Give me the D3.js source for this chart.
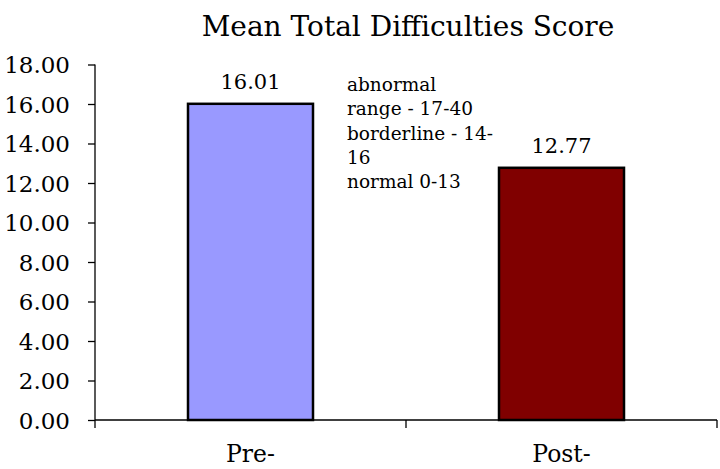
<!DOCTYPE html>
<html>
<head>
<meta charset="utf-8">
<script src="https://cdn.jsdelivr.net/npm/d3@7"></script>
<style>
  body { margin: 0; background: #fff; }
  svg text { font-family: Georgia, "DejaVu Serif", serif; fill: #000; }
</style>
</head>
<body>
<div id="chart"></div>
<script>
var categories = ["Pre-", "Post-"];
var values = [16.01, 12.77];
var valueLabels = ["16.01", "12.77"];
var barColors = ["#9999ff", "#800000"];
var yTicks = [0, 2, 4, 6, 8, 10, 12, 14, 16, 18];
var noteLines = ["abnormal", "range - 17-40", "borderline - 14-", "16", "normal 0-13"];

var width = 720,
    height = 469;

var svg = d3.select("#chart")
    .append("svg")
    .attr("width", width)
    .attr("height", height);

var x = d3.scaleBand().domain(categories).range([95, 717]).paddingInner(0).paddingOuter(0);
var y = d3.scaleLinear().domain([0, 18]).range([420, 64.5]);

// title
svg.append("text")
    .attr("x", 408)
    .attr("y", 36)
    .style("text-anchor", "middle")
    .style("font-size", "28px")
    .text("Mean Total Difficulties Score");

// y axis
var yAxis = d3.axisLeft(y)
    .tickValues(yTicks)
    .tickFormat(d3.format(".2f"))
    .tickSize(7)
    .tickPadding(18);

var yg = svg.append("g")
    .attr("transform", "translate(95,0)")
    .call(yAxis);
yg.select(".domain").remove();
yg.append("line")
    .attr("x1", 0).attr("x2", 0)
    .attr("y1", y(18)).attr("y2", 428)
    .attr("stroke", "#000").attr("stroke-width", 1.3);
yg.selectAll(".tick line").attr("stroke", "#000").attr("stroke-width", 1.3);
yg.selectAll(".tick text")
    .style("font-size", "23px")
    .attr("dy", "0.35em");

// x axis
svg.append("line")
    .attr("x1", 95).attr("x2", 717)
    .attr("y1", y(0)).attr("y2", y(0))
    .attr("stroke", "#000").attr("stroke-width", 1.3);

svg.selectAll(".xtick")
    .data(categories)
    .enter().append("line")
    .attr("class", "xtick")
    .attr("x1", function (d) { return x(d) + x.bandwidth(); })
    .attr("x2", function (d) { return x(d) + x.bandwidth(); })
    .attr("y1", y(0))
    .attr("y2", y(0) + 8)
    .attr("stroke", "#000").attr("stroke-width", 1.3);

svg.selectAll(".xlabel")
    .data(categories)
    .enter().append("text")
    .attr("class", "xlabel")
    .attr("x", function (d) { return x(d) + x.bandwidth() / 2; })
    .attr("y", 462)
    .style("text-anchor", "middle")
    .style("font-size", "23.5px")
    .text(function (d) { return d; });

// bars
var barW = 125;
svg.selectAll(".bar")
    .data(values)
    .enter().append("rect")
    .attr("class", "bar")
    .attr("x", function (d, i) { return x(categories[i]) + x.bandwidth() / 2 - barW / 2; })
    .attr("y", function (d) { return y(d); })
    .attr("width", barW)
    .attr("height", function (d) { return y(0) - y(d); })
    .style("fill", function (d, i) { return barColors[i]; })
    .style("stroke", "#000")
    .style("stroke-width", 2.5);

svg.selectAll(".vlabel")
    .data(values)
    .enter().append("text")
    .attr("class", "vlabel")
    .attr("x", function (d, i) { return x(categories[i]) + x.bandwidth() / 2; })
    .attr("y", function (d) { return y(d) - 15; })
    .style("text-anchor", "middle")
    .style("font-size", "21px")
    .text(function (d, i) { return valueLabels[i]; });

// range note
svg.selectAll(".note")
    .data(noteLines)
    .enter().append("text")
    .attr("class", "note")
    .attr("x", 347)
    .attr("y", function (d, i) { return 90.7 + i * 24.4; })
    .style("font-size", "18.5px")
    .text(function (d) { return d; });
</script>
</body>
</html>
